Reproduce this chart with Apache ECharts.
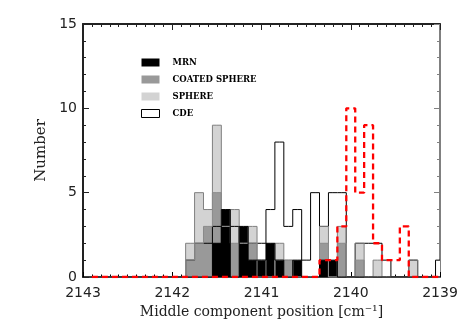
<!DOCTYPE html>
<html lang="en">
<head>
    <meta charset="UTF-8">
    <title>middle component histogram</title>
    <script type="text/javascript" src="https://cdn.jsdelivr.net/npm/echarts@6/dist/echarts.min.js"></script>
    <style>
        html, body { margin: 0; padding: 0; background: #fff; }
    </style>
</head>
<body>
  <div id="main" style="width: 463px;height: 331px;"></div>
</body>
<script>
    // bin centres (cm^-1), bin width 0.1
    var positions = [2142.9, 2142.8, 2142.7, 2142.6, 2142.5, 2142.4, 2142.3, 2142.2, 2142.1, 2142.0,
        2141.9, 2141.8, 2141.7, 2141.6, 2141.5, 2141.4, 2141.3, 2141.2, 2141.1, 2141.0,
        2140.9, 2140.8, 2140.7, 2140.6, 2140.5, 2140.4, 2140.3, 2140.2, 2140.1, 2140.0,
        2139.9, 2139.8, 2139.7, 2139.6, 2139.5, 2139.4, 2139.3, 2139.2, 2139.1, 2139.0];

    var mrn = [0, 0, 0, 0, 0, 0, 0, 0, 0, 0,
        0, 0, 0, 0, 2, 4, 0, 3, 1, 1,
        2, 1, 0, 1, 0, 0, 1, 1, 0, 0,
        0, 0, 0, 0, 0, 0, 0, 0, 0, 0];
    var coated = [0, 0, 0, 0, 0, 0, 0, 0, 0, 0,
        0, 1, 2, 3, 5, 3, 2, 2, 2, 0,
        0, 1, 1, 0, 0, 0, 2, 0, 2, 0,
        1, 0, 0, 0, 0, 0, 0, 0, 0, 0];
    var sphere = [0, 0, 0, 0, 0, 0, 0, 0, 0, 0,
        0, 2, 5, 4, 9, 3, 4, 2, 3, 1,
        0, 2, 1, 0, 0, 0, 3, 0, 3, 0,
        2, 0, 1, 0, 0, 0, 1, 0, 0, 0];
    var cde = [0, 0, 0, 0, 0, 0, 0, 0, 0, 0,
        0, 1, 2, 2, 3, 2, 3, 2, 2, 2,
        4, 8, 3, 4, 1, 5, 3, 5, 5, 0,
        2, 2, 2, 1, 0, 0, 1, 0, 0, 1];
    var observed = [0, 0, 0, 0, 0, 0, 0, 0, 0, 0,
        0, 0, 0, 0, 0, 0, 0, 0, 0, 0,
        0, 0, 0, 0, 0, 0, 1, 1, 3, 10,
        5, 9, 2, 1, 1, 3, 0, 0, 0, 0];

    var xRange = [2139, 2143];
    var yRange = [0, 15];

    function hist(vals) {
        return positions.map(function (p, i) { return [p, vals[i]]; });
    }

    function histSeries(name, vals, fill, stroke) {
        return {
            name: name,
            type: 'line',
            step: 'middle',
            symbol: 'none',
            data: hist(vals),
            itemStyle: { color: fill },
            lineStyle: { color: stroke, width: 1 },
            areaStyle: { color: fill, opacity: 1 },
            emphasis: { disabled: true },
            silent: true
        };
    }

    var myChart = echarts.init(document.getElementById('main'));
    var tickFont = {
        fontFamily: 'DejaVu Sans', fontSize: 14, color: '#222',
        formatter: function (v) { return String(v); }
    };

    var option = {
        animation: false,
        grid: { left: 83, right: 23, top: 24, bottom: 54 },
        legend: {
            orient: 'vertical',
            left: 136,
            top: 53,
            itemWidth: 18,
            itemHeight: 8,
            itemGap: 8,
            icon: 'rect',
            selectedMode: false,
            textStyle: {
                fontFamily: 'DejaVu Serif', fontWeight: 'bold', fontSize: 8.5,
                color: '#000', padding: [0, 0, 0, 8]
            },
            data: [
                { name: 'MRN', itemStyle: { color: '#000', borderWidth: 0 } },
                { name: 'COATED SPHERE', itemStyle: { color: '#999', borderWidth: 0 } },
                { name: 'SPHERE', itemStyle: { color: '#d3d3d3', borderWidth: 0 } },
                { name: 'CDE', itemStyle: { color: '#fff', borderColor: '#000', borderWidth: 1 } }
            ]
        },
        xAxis: [{
            type: 'value',
            position: 'bottom',
            inverse: true,
            min: xRange[0],
            max: xRange[1],
            interval: 1,
            name: 'Middle component position [cm⁻¹]',
            nameLocation: 'middle',
            nameGap: 27,
            nameTextStyle: { fontFamily: 'DejaVu Serif', fontSize: 14, color: '#222' },
            axisLine: { show: true, onZero: false, lineStyle: { color: '#000', width: 1.5 } },
            axisTick: { inside: true, length: 5, lineStyle: { color: '#000' } },
            minorTick: { show: true, splitNumber: 10, length: 2.5, lineStyle: { color: '#000' } },
            axisLabel: Object.assign({ margin: 9 }, tickFont),
            splitLine: { show: false }
        }, {
            type: 'value',
            position: 'top',
            inverse: true,
            min: xRange[0],
            max: xRange[1],
            interval: 1,
            axisLine: { show: true, onZero: false, lineStyle: { color: '#222', width: 2 } },
            axisTick: { inside: true, length: 6, lineStyle: { color: '#222' } },
            minorTick: { show: true, splitNumber: 10, length: 3, lineStyle: { color: '#222' } },
            axisLabel: { show: false },
            splitLine: { show: false }
        }],
        yAxis: [{
            type: 'value',
            position: 'left',
            min: yRange[0],
            max: yRange[1],
            interval: 5,
            name: 'Number',
            nameLocation: 'middle',
            nameGap: 33,
            nameTextStyle: { fontFamily: 'DejaVu Serif', fontSize: 15, color: '#222' },
            axisLine: { show: true, onZero: false, lineStyle: { color: '#222', width: 2 } },
            axisTick: { inside: true, length: 6, lineStyle: { color: '#222' } },
            minorTick: { show: true, splitNumber: 5, length: 3, lineStyle: { color: '#222' } },
            axisLabel: Object.assign({ margin: 6 }, tickFont),
            splitLine: { show: false }
        }, {
            type: 'value',
            position: 'right',
            min: yRange[0],
            max: yRange[1],
            interval: 5,
            axisLine: { show: true, onZero: false, lineStyle: { color: '#808080', width: 2 } },
            axisTick: { inside: true, length: 6, lineStyle: { color: '#808080' } },
            minorTick: { show: true, splitNumber: 5, length: 3, lineStyle: { color: '#808080' } },
            axisLabel: { show: false },
            splitLine: { show: false }
        }],
        series: [
            histSeries('CDE', cde, '#fff', '#000'),
            histSeries('SPHERE', sphere, '#d3d3d3', '#808080'),
            histSeries('COATED SPHERE', coated, '#999', '#8a8a8a'),
            histSeries('MRN', mrn, '#000', '#000'),
            {
                name: 'observed',
                type: 'line',
                step: 'middle',
                symbol: 'none',
                data: hist(observed),
                lineStyle: { color: '#ff0000', width: 2.3, type: [6, 4] },
                silent: true,
                z: 5
            }
        ]
    };

    myChart.setOption(option);
</script>
</html>
